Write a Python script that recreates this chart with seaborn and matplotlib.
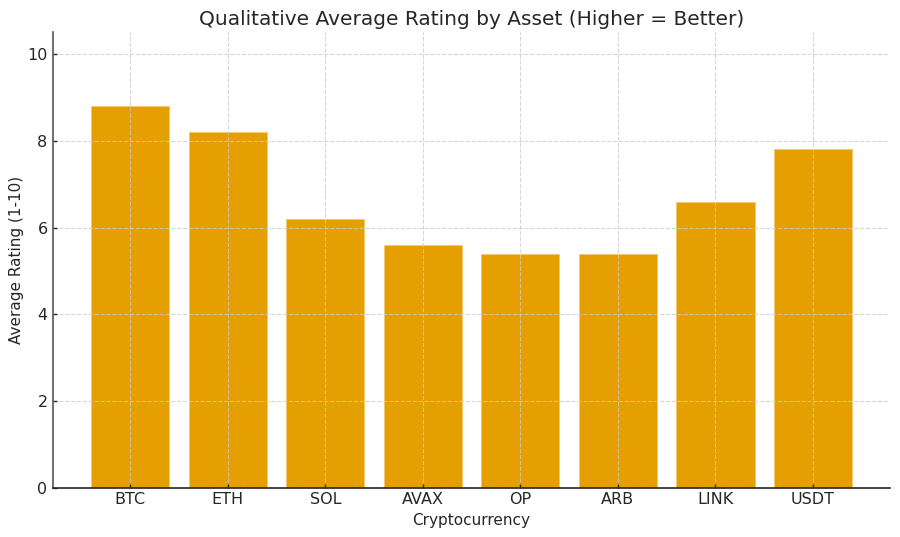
import matplotlib
matplotlib.use('Agg')
import matplotlib.pyplot as plt
import seaborn as sns
import pandas as pd

# Chart data
assets = ['BTC', 'ETH', 'SOL', 'AVAX', 'OP', 'ARB', 'LINK', 'USDT']
ratings = [8.8, 8.2, 6.2, 5.6, 5.4, 5.4, 6.6, 7.8]

df = pd.DataFrame({'Cryptocurrency': assets, 'Average Rating': ratings})

sns.set_style('white')
plt.rcParams['font.family'] = ['DejaVu Sans']

fig, ax = plt.subplots(figsize=(9, 5.37), dpi=100)
sns.barplot(x='Cryptocurrency', y='Average Rating', data=df, color='#E69F00',
            saturation=1, width=0.8, edgecolor='#F2C96A', linewidth=0.6, ax=ax)

ax.set_xlim(-0.79, len(assets) - 0.21)
ax.set_ylim(0, 10.5)
ax.set_yticks([0, 2, 4, 6, 8, 10])

ax.set_title('Qualitative Average Rating by Asset (Higher = Better)', fontsize=14.5,
             color='#262626', pad=5)
ax.set_xlabel('Cryptocurrency', fontsize=11, color='#262626', labelpad=4)
ax.set_ylabel('Average Rating (1-10)', fontsize=11, color='#262626', labelpad=2)
ax.tick_params(axis='both', labelsize=11.5, colors='#262626', direction='in',
               length=3, width=1, pad=4, left=True, bottom=True)
ax.tick_params(axis='x', pad=3)

# Grid sits on top of the bars, like in the original
ax.set_axisbelow(False)
ax.grid(True, linestyle='--', color='#cccccc', linewidth=0.8, alpha=0.8)

for side in ['top', 'right']:
    ax.spines[side].set_visible(False)
ax.spines['left'].set_color('#555555')
ax.spines['left'].set_linewidth(1.2)
ax.spines['bottom'].set_color('#222222')
ax.spines['bottom'].set_linewidth(1.2)

plt.subplots_adjust(left=0.059, right=0.989, top=0.94, bottom=0.091)
plt.savefig('out.png', dpi=100)
plt.close()
